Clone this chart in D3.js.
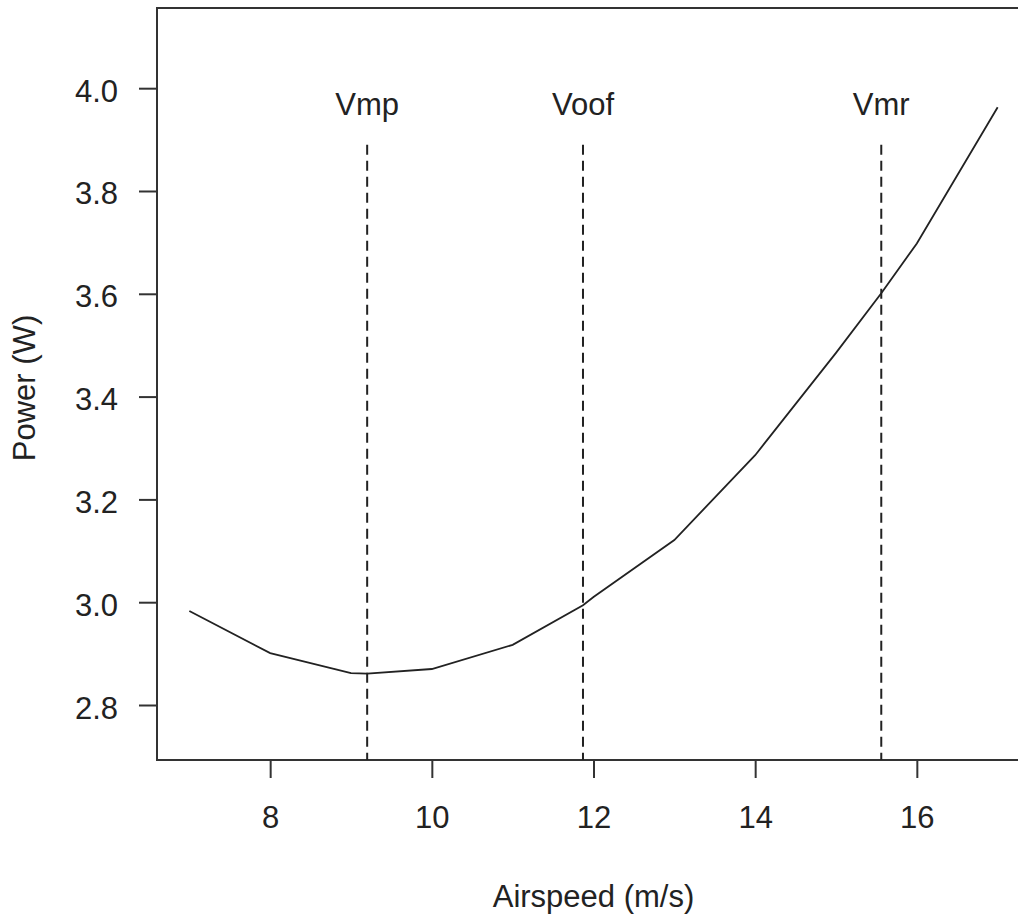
<!DOCTYPE html>
<html>
<head>
<meta charset="utf-8">
<script src="https://cdn.jsdelivr.net/npm/d3@7"></script>
<style>
  html, body { margin: 0; padding: 0; background: #fff; }
  svg { display: block; }
  text { font-family: "Liberation Sans", Arial, sans-serif; fill: #222; }
</style>
</head>
<body>
<svg id="chart" width="1018" height="916"></svg>
<script>
// Power required curve against airspeed
const airspeed = [7, 8, 9, 9.2, 10, 11, 11.87, 12, 13, 14, 15, 15.56, 16, 17];
const power    = [2.983, 2.901, 2.862, 2.861, 2.870, 2.917, 2.994, 3.010, 3.121, 3.286, 3.485, 3.601, 3.698, 3.963];

// Characteristic speeds
const markerNames  = ["Vmp", "Voof", "Vmr"];
const markerSpeeds = [9.2, 11.87, 15.56];
const markerTop = 3.89;
const labelLevel = 3.947;

const xTicks = [8, 10, 12, 14, 16];
const yTicks = [2.8, 3.0, 3.2, 3.4, 3.6, 3.8, 4.0];

const xLabel = "Airspeed (m/s)";
const yLabel = "Power (W)";

const svg = d3.select("#chart");
const plotLeft = 157, plotRight = 1030, plotTop = 8, plotBottom = 760;

const x = d3.scaleLinear().domain([6.6, 17.4]).range([plotLeft, plotRight]);
const y = d3.scaleLinear().domain([2.693, 4.156]).range([plotBottom, plotTop]);

const fs = 31;
const ink = "#222";

// plot frame
svg.append("rect")
  .attr("x", plotLeft).attr("y", plotTop)
  .attr("width", plotRight - plotLeft).attr("height", plotBottom - plotTop)
  .attr("fill", "none").attr("stroke", "#333").attr("stroke-width", 2);

// x axis
const xAxis = svg.append("g")
  .attr("transform", `translate(0,${plotBottom})`)
  .call(d3.axisBottom(x).tickValues(xTicks).tickSize(18).tickPadding(0).tickFormat(d3.format("d")));
xAxis.select(".domain").remove();
xAxis.selectAll(".tick line").attr("stroke", "#333").attr("stroke-width", 2);
xAxis.selectAll(".tick text")
  .attr("y", 68).attr("dy", null)
  .style("font-size", fs + "px").style("font-family", "Liberation Sans, Arial, sans-serif")
  .attr("fill", ink);

// y axis
const yAxis = svg.append("g")
  .attr("transform", `translate(${plotLeft},0)`)
  .call(d3.axisLeft(y).tickValues(yTicks).tickSize(18).tickPadding(0).tickFormat(d3.format(".1f")));
yAxis.select(".domain").remove();
yAxis.selectAll(".tick line").attr("stroke", "#333").attr("stroke-width", 2);
yAxis.selectAll(".tick text")
  .attr("x", -39).attr("dy", null).attr("y", 13)
  .style("font-size", fs + "px").style("font-family", "Liberation Sans, Arial, sans-serif")
  .attr("fill", ink);

// axis titles
svg.append("text")
  .attr("x", (plotLeft + plotRight) / 2).attr("y", 907)
  .attr("text-anchor", "middle")
  .style("font-size", fs + "px")
  .text(xLabel);

svg.append("text")
  .attr("transform", `translate(35,${(plotTop + plotBottom) / 2 + 4}) rotate(-90)`)
  .attr("text-anchor", "middle")
  .style("font-size", fs + "px")
  .text(yLabel);

// dashed reference lines with labels
markerSpeeds.forEach((v, i) => {
  svg.append("line")
    .attr("x1", x(v)).attr("x2", x(v))
    .attr("y1", y(markerTop)).attr("y2", plotBottom)
    .attr("stroke", ink).attr("stroke-width", 2)
    .attr("stroke-dasharray", "10,6");
  svg.append("text")
    .attr("x", x(v)).attr("y", y(labelLevel))
    .attr("text-anchor", "middle")
    .style("font-size", fs + "px")
    .text(markerNames[i]);
});

// power curve
const pts = airspeed.map((s, i) => [s, power[i]]);
svg.append("path")
  .datum(pts)
  .attr("fill", "none")
  .attr("stroke", ink)
  .attr("stroke-width", 1.8)
  .attr("d", d3.line().x(d => x(d[0])).y(d => y(d[1])));
</script>
</body>
</html>
